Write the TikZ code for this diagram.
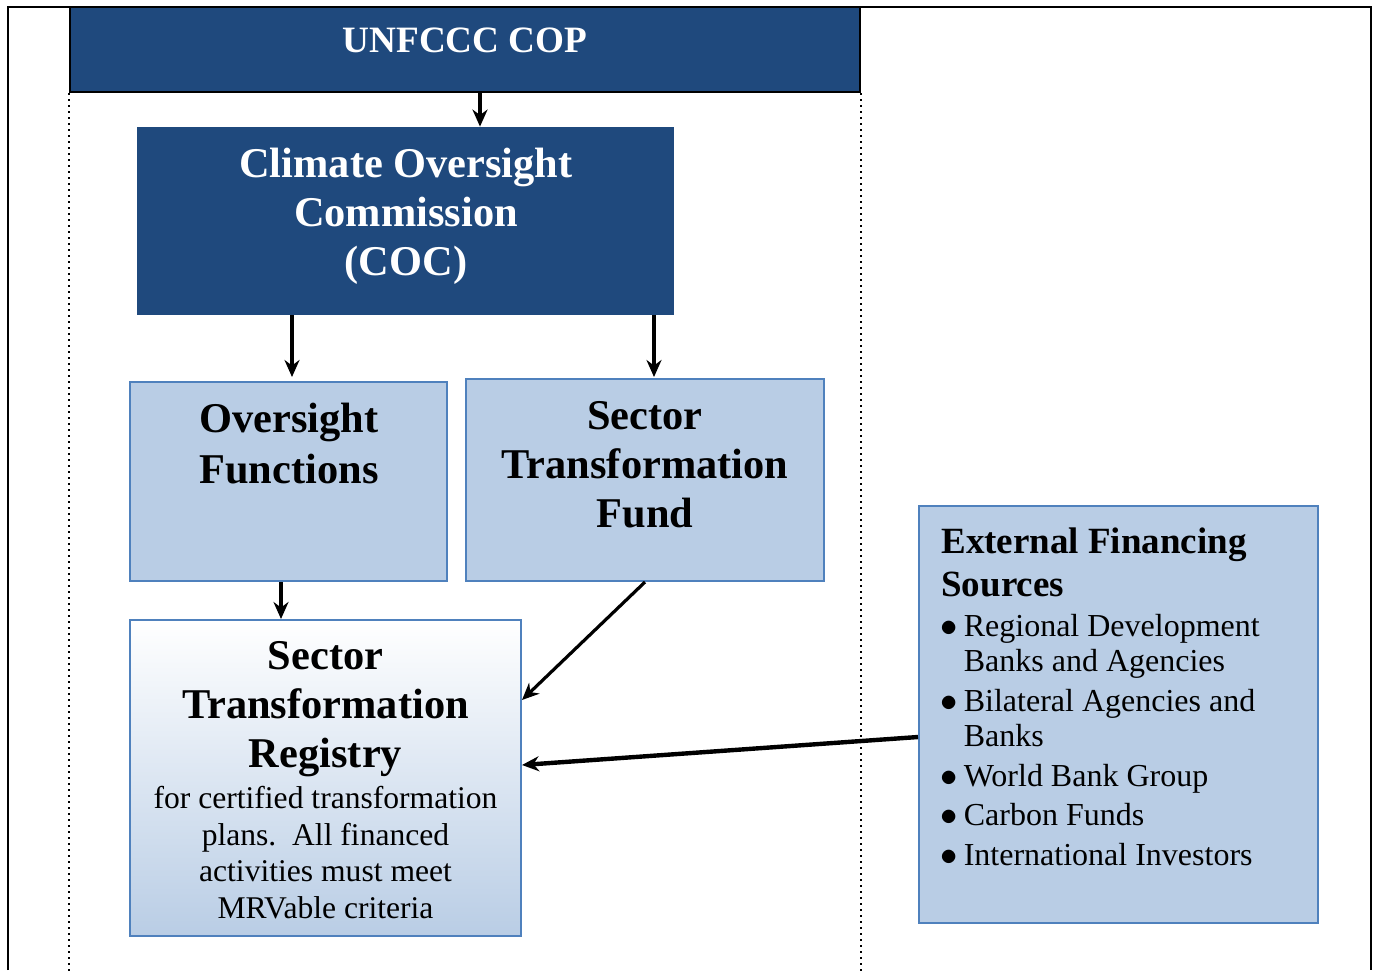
\documentclass[tikz,border=0pt]{standalone}
\usepackage{fontspec}
\setmainfont{Liberation Serif}
\usepackage{xcolor}
\usepackage{tikz}
\usetikzlibrary{arrows.meta}

\definecolor{cdark}{HTML}{1F497D}
\definecolor{clight}{HTML}{B9CDE5}
\definecolor{cedge}{HTML}{4F81BD}

\newcommand{\bul}{\makebox[11.7pt][l]{$\bullet$}}
\newcommand{\ind}{\hspace*{11.7pt}}

\begin{document}
\begin{tikzpicture}[x=0.5pt,y=-0.5pt,
  darkbox/.style={rectangle,fill=cdark,inner sep=0pt},
  lightbox/.style={rectangle,fill=clight,draw=cedge,line width=1pt,inner sep=0pt},
  bigtitle/.style={inner sep=0pt,align=center,font=\bfseries\fontsize{21.2}{24.5}\selectfont},
  smalltext/.style={inner sep=0pt,font=\fontsize{15.8}{18.25}\selectfont},
  arr/.style={-{Stealth[length=8.5pt,width=7.5pt]},line width=1.6pt}]

\useasboundingbox (0,0) rectangle (1375,970);
\fill[white] (0,0) rectangle (1375,970);

%%    FRAME    %%
\draw[line width=1pt] (8,970) -- (8,7) -- (1371,7) -- (1371,970);

%%    NODES   %%
\node[darkbox,draw=black,line width=1pt,minimum width=395pt,minimum height=42.5pt] (cop) at (465,49.5) {};
\node[anchor=base,inner sep=0pt,text=white,font=\bfseries\fontsize{18.6}{22}\selectfont] (cop-t) at (465,52) {UNFCCC COP};

\draw[line width=1.1pt,dash pattern=on 1pt off 2pt] (cop.south west) -- ++(0,878);
\draw[line width=1.1pt,dash pattern=on 1pt off 2pt] (cop.south east) -- ++(0,878);

\node[darkbox,minimum width=268.5pt,minimum height=94pt] (coc) at (405.5,221) {};
\node[bigtitle,anchor=north,text=white] (coc-t) at (406,148) {Climate Oversight\\Commission\\(COC)};

\node[lightbox,minimum width=158.5pt,minimum height=99.5pt] (ovf) at (288.5,481.5) {};
\node[bigtitle,anchor=north,font=\bfseries\fontsize{21.2}{25.5}\selectfont] (ovf-t) at (289,403) {Oversight\\Functions};

\node[lightbox,minimum width=179pt,minimum height=101pt] (stf) at (645,480) {};
\node[bigtitle,anchor=north] (stf-t) at (645,401) {Sector\\Transformation\\Fund};

\node[lightbox,top color=white,bottom color=clight,minimum width=195.5pt,minimum height=158pt] (str) at (325.5,778) {};
\node[bigtitle,anchor=north] (str-t) at (325.5,641) {Sector\\Transformation\\Registry};
\node[smalltext,align=center,anchor=north] (str-b) at (325.5,786) {for certified transformation\\plans.\ \ All financed\\activities must meet\\MRVable criteria};

\node[lightbox,minimum width=199.5pt,minimum height=208.5pt] (efs) at (1118.5,714.5) {};
\node[inner sep=0pt,align=left,anchor=north west,font=\bfseries\fontsize{18.5}{21.5}\selectfont] (efs-t) at (941,527) {External Financing\\Sources};
\node[smalltext,align=left,anchor=north west,font=\fontsize{16}{17.6}\selectfont] (efs-l) at (940,614) {\bul Regional Development\\\ind Banks and Agencies\\[2.2pt]\bul Bilateral Agencies and\\\ind Banks\\[2.2pt]\bul World Bank Group\\[2.2pt]\bul Carbon Funds\\[2.2pt]\bul International Investors};

%%    ARROWS    %%
\draw[arr] ([xshift=7.5pt]cop.south) -- ([xshift=37.25pt]coc.north);
\draw[arr] ([xshift=-56.75pt]coc.south) -- ([xshift=1.75pt,yshift=2pt]ovf.north);
\draw[arr] ([xshift=124.25pt]coc.south) -- ([xshift=4.5pt,yshift=0.5pt]stf.north);
\draw[arr] ([xshift=-3.75pt]ovf.south) -- ([xshift=-22.25pt]str.north);
\draw[arr] (stf.south) -- ([yshift=39pt]str.east);
\draw[arr,line width=2.2pt] ([yshift=-11.25pt]efs.west) -- ([yshift=6.5pt]str.east);

\end{tikzpicture}
\end{document}
